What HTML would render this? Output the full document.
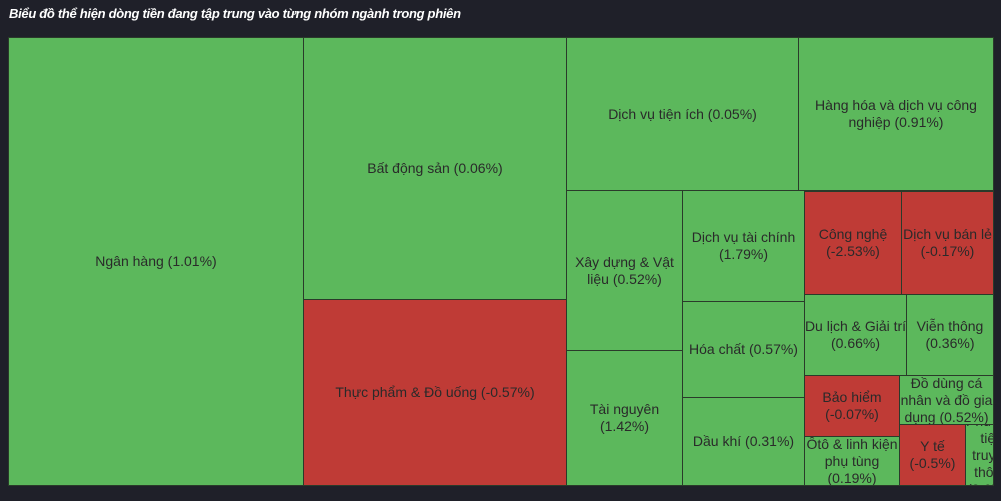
<!DOCTYPE html>
<html><head><meta charset="utf-8"><style>
body{margin:0;width:1001px;height:501px;background:#1f2029;position:relative;overflow:hidden;font-family:"Liberation Sans",sans-serif}
.t{position:absolute;left:9px;top:6px;color:#fff;font-size:13px;font-style:italic;font-weight:bold;letter-spacing:-0.3px}
.c{position:absolute;box-sizing:border-box;border:1px solid #2a3a2a;display:flex;align-items:center;justify-content:center;text-align:center;overflow:hidden;font-size:14px;color:#2a2a2a;line-height:17px;background:#5cb85c;white-space:nowrap}
.r{background:#bf3b36}
</style></head><body>
<div class="t">Biểu đồ thể hiện dòng tiền đang tập trung vào từng nhóm ngành trong phiên</div>
<div class="c" style="left:8px;top:37px;width:296px;height:449px">Ngân hàng (1.01%)</div>
<div class="c" style="left:303px;top:37px;width:264px;height:263px">Bất động sản (0.06%)</div>
<div class="c r" style="left:303px;top:299px;width:264px;height:187px">Thực phẩm &amp; Đồ uống (-0.57%)</div>
<div class="c" style="left:566px;top:37px;width:233px;height:154px">Dịch vụ tiện ích (0.05%)</div>
<div class="c" style="left:798px;top:37px;width:196px;height:154px">Hàng hóa và dịch vụ công<br>nghiệp (0.91%)</div>
<div class="c" style="left:566px;top:190px;width:117px;height:161px">Xây dựng &amp; Vật<br>liệu (0.52%)</div>
<div class="c" style="left:566px;top:350px;width:117px;height:136px">Tài nguyên<br>(1.42%)</div>
<div class="c" style="left:682px;top:190px;width:123px;height:112px">Dịch vụ tài chính<br>(1.79%)</div>
<div class="c" style="left:682px;top:301px;width:123px;height:97px">Hóa chất (0.57%)</div>
<div class="c" style="left:682px;top:397px;width:123px;height:89px">Dầu khí (0.31%)</div>
<div class="c r" style="left:804px;top:191px;width:98px;height:104px">Công nghệ<br>(-2.53%)</div>
<div class="c r" style="left:901px;top:191px;width:93px;height:104px">Dịch vụ bán lẻ<br>(-0.17%)</div>
<div class="c" style="left:804px;top:294px;width:103px;height:82px">Du lịch &amp; Giải trí<br>(0.66%)</div>
<div class="c" style="left:906px;top:294px;width:88px;height:82px">Viễn thông<br>(0.36%)</div>
<div class="c r" style="left:804px;top:375px;width:96px;height:62px">Bảo hiểm<br>(-0.07%)</div>
<div class="c" style="left:804px;top:436px;width:96px;height:50px">Ôtô &amp; linh kiện<br>phụ tùng<br>(0.19%)</div>
<div class="c" style="left:899px;top:375px;width:95px;height:50px">Đồ dùng cá<br>nhân và đồ gia<br>dụng (0.52%)</div>
<div class="c r" style="left:899px;top:424px;width:67px;height:62px">Y tế<br>(-0.5%)</div>
<div class="c" style="left:965px;top:424px;width:29px;height:62px;justify-content:flex-start">Phương<br>tiện<br>truyền<br>thông<br>(0.65%)</div>
</body></html>
